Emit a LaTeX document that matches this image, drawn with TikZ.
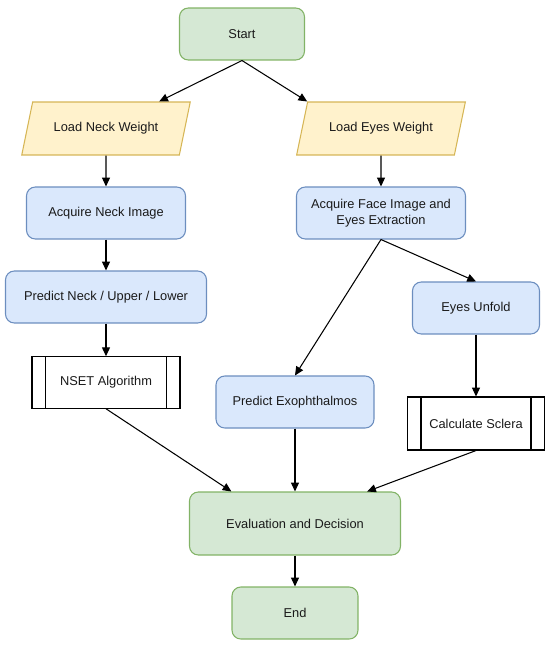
\documentclass[tikz,border=0pt]{standalone}
\usepackage{fontspec}
\setmainfont{Liberation Sans}
\usepackage{tikz}
\usetikzlibrary{arrows.meta, shapes.geometric, positioning, calc}
\definecolor{TermFill}{HTML}{D5E8D4}
\definecolor{TermLine}{HTML}{82B366}
\definecolor{DataFill}{HTML}{FFF2CC}
\definecolor{DataLine}{HTML}{D6B656}
\definecolor{StepFill}{HTML}{DAE8FC}
\definecolor{StepLine}{HTML}{6C8EBF}
\definecolor{InkDark}{HTML}{1A1A1A}

\begin{document}
\begin{tikzpicture}[x=0.02cm, y=-0.02cm,
    every node/.style={font=\fontsize{7.3}{9}\selectfont, text=InkDark, inner sep=0pt, line width=0.6pt},
    termbox/.style={draw=TermLine, fill=TermFill, rounded corners=5pt, minimum height=1.04cm},
    databox/.style={draw=DataLine, fill=DataFill, trapezium, trapezium left angle=57, trapezium right angle=123,
      trapezium stretches=true, minimum width=3.38cm, minimum height=1.06cm},
    stepbox/.style={draw=StepLine, fill=StepFill, rounded corners=5pt, minimum height=1.04cm, align=center},
    procbox/.style={draw=black, fill=white, minimum height=1.03cm},
    flow/.style={-{Triangle[length=5pt,width=4.5pt]}, line width=0.6pt, black}]
  \useasboundingbox (0,0) rectangle (550,646);
  % Start and weights
  \node[termbox, minimum width=2.5cm] (start) at (242,34) {Start};
  \node[databox] (ln) at (106,128.5) {Load Neck Weight};
  \node[databox] (le) at (381,128.5) {Load Eyes Weight};
  % Neck branch
  \node[stepbox, minimum width=3.18cm] (an) at (106,213) {Acquire Neck Image};
  \node[stepbox, minimum width=4.02cm] (pn) at (106,297) {Predict Neck / Upper / Lower};
  \node[procbox, minimum width=2.96cm] (nset) at (106,382.5) {NSET Algorithm};
  % Eyes branch
  \node[stepbox, minimum width=3.38cm] (af) at (381,213) {Acquire Face Image and\\Eyes Extraction};
  \node[stepbox, minimum width=2.54cm] (eu) at (476,308) {Eyes Unfold};
  \node[stepbox, minimum width=3.16cm] (pe) at (295,402) {Predict Exophthalmos};
  \node[procbox, minimum width=2.74cm, minimum height=1.06cm] (cs) at (476,423.5) {Calculate Sclera};
  % Decision and end
  \node[termbox, minimum width=4.22cm, minimum height=1.26cm] (ev) at (295,523.5) {Evaluation and Decision};
  \node[termbox, minimum width=2.52cm] (end) at (295,613) {End};
  % Side bars of process boxes
  \foreach \n in {nset,cs}{
    \draw[line width=0.6pt] ([xshift=0.28cm]\n.north west) -- ([xshift=0.28cm]\n.south west);
    \draw[line width=0.6pt] ([xshift=-0.28cm]\n.north east) -- ([xshift=-0.28cm]\n.south east);
  }
  % Connectors
  \draw[flow] (start.south) -- ($(ln.top left corner)!0.8!(ln.top right corner)$);
  \draw[flow] (start.south) -- (le.top left corner);
  \draw[flow] (ln.south) -- (an.north);
  \draw[flow] (an.south) -- (pn.north);
  \draw[flow] (pn.south) -- (nset.north);
  \draw[flow] (le.south) -- (af.north);
  \draw[flow] (af.south) -- (eu.north);
  \draw[flow] (af.south) -- (pe.north);
  \draw[flow] (eu.south) -- (cs.north);
  \draw[flow] (nset.south) -- ($(ev.north west)!0.2!(ev.north east)$);
  \draw[flow] (pe.south) -- (ev.north);
  \draw[flow] (cs.south) -- ($(ev.north west)!0.84!(ev.north east)$);
  \draw[flow] (ev.south) -- (end.north);
\end{tikzpicture}
\end{document}
